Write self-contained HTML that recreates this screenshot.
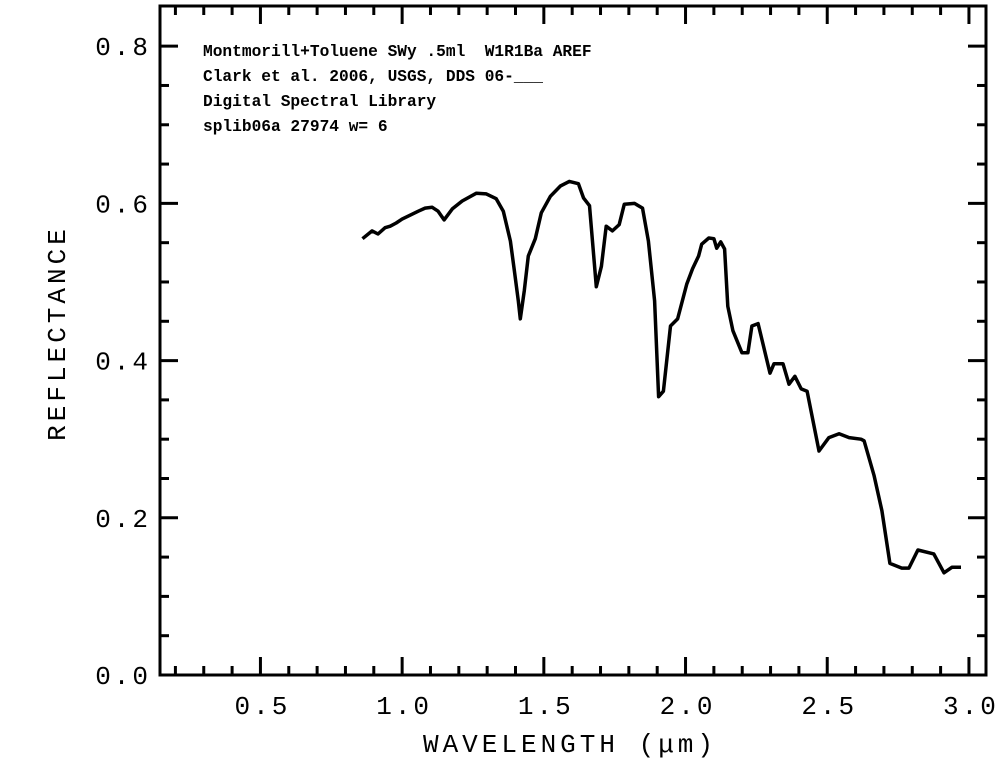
<!DOCTYPE html>
<html><head><meta charset="utf-8"><style>
html,body{margin:0;padding:0;background:#fff;}
svg{display:block;}
.t{font-family:"Liberation Mono",monospace;fill:#000;white-space:pre;}
</style></head><body>
<svg id="chart" width="1003" height="771" xmlns="http://www.w3.org/2000/svg">
<g id="axes"></g>
<g id="hdr" class="t" font-size="16.2" font-weight="bold">
<text x="203" y="56" xml:space="preserve">Montmorill+Toluene SWy .5ml  W1R1Ba AREF</text>
<text x="203" y="81">Clark et al. 2006, USGS, DDS 06-___</text>
<text x="203" y="106">Digital Spectral Library</text>
<text x="203" y="131">splib06a 27974 w= 6</text>
</g>
<text class="t" x="570" y="752" font-size="26" letter-spacing="4" text-anchor="middle">WAVELENGTH (μm)</text>
<text class="t" x="0" y="0" font-size="26" letter-spacing="4" text-anchor="middle" transform="translate(65,333) rotate(-90)">REFLECTANCE</text>
</svg>
<script>
const wavelengths=[0.860,0.894,0.915,0.940,0.958,0.979,1.000,1.028,1.057,1.081,1.106,1.127,1.148,1.177,1.212,1.262,1.297,1.332,1.357,1.382,1.396,1.410,1.417,1.431,1.445,1.470,1.491,1.523,1.558,1.590,1.622,1.640,1.661,1.685,1.703,1.720,1.742,1.766,1.784,1.820,1.848,1.869,1.891,1.905,1.922,1.947,1.972,2.004,2.025,2.046,2.057,2.082,2.100,2.110,2.124,2.138,2.149,2.167,2.199,2.220,2.234,2.256,2.298,2.312,2.344,2.365,2.386,2.408,2.429,2.471,2.506,2.542,2.577,2.619,2.630,2.665,2.693,2.721,2.763,2.788,2.820,2.876,2.912,2.940,2.972];
const reflectance=[0.555,0.565,0.561,0.569,0.571,0.575,0.580,0.585,0.590,0.594,0.595,0.590,0.579,0.593,0.603,0.613,0.612,0.606,0.590,0.552,0.514,0.476,0.453,0.489,0.533,0.555,0.588,0.609,0.622,0.628,0.625,0.607,0.597,0.494,0.520,0.571,0.565,0.573,0.599,0.600,0.594,0.552,0.476,0.354,0.361,0.444,0.453,0.497,0.517,0.533,0.548,0.556,0.555,0.543,0.551,0.542,0.469,0.438,0.410,0.410,0.444,0.447,0.384,0.396,0.396,0.370,0.380,0.364,0.361,0.285,0.302,0.307,0.302,0.300,0.298,0.254,0.209,0.142,0.136,0.136,0.159,0.154,0.130,0.137,0.137];
const xTicks=[0.5,1.0,1.5,2.0,2.5,3.0];
const xTickLabels=["0.5","1.0","1.5","2.0","2.5","3.0"];
const yTicks=[0.0,0.2,0.4,0.6,0.8];
const yTickLabels=["0.0","0.2","0.4","0.6","0.8"];

const L=160,R=986,T=6,B=675;
const xMin=0.1456,xMax=3.0602,yMin=0,yMax=0.8511;
const X=v=>L+(v-xMin)/(xMax-xMin)*(R-L);
const Y=v=>B-(v-yMin)/(yMax-yMin)*(B-T);
const NS="http://www.w3.org/2000/svg";
const ax=document.getElementById('axes');
function mk(tag,attrs,parent){const e=document.createElementNS(NS,tag);for(const k in attrs)e.setAttribute(k,attrs[k]);(parent||ax).appendChild(e);return e;}

const frame=mk('rect',{x:L,y:T,width:R-L,height:B-T,fill:'none',stroke:'#000','stroke-width':3});



for(let i=2;i<=30;i++){
  const v=i/10, major=(i%5===0);
  const len=major?18:9, x=X(v);
  const tb=mk('line',{x1:x,x2:x,y1:B,y2:B-len,stroke:'#000','stroke-width':3});
  
  
  const tt=mk('line',{x1:x,x2:x,y1:T,y2:T+len,stroke:'#000','stroke-width':3});
  
  
}
for(let i=1;i<=16;i++){
  const v=i*0.05, major=(i%4===0);
  const len=major?18:9, y=Y(v);
  const tl=mk('line',{x1:L,x2:L+len,y1:y,y2:y,stroke:'#000','stroke-width':3});
  
  
  const tr=mk('line',{x1:R,x2:R-len,y1:y,y2:y,stroke:'#000','stroke-width':3});
  
  
}
xTicks.forEach((v,i)=>{
  const t=mk('text',{x:X(v)+2,y:714,'font-size':26,'letter-spacing':3,'text-anchor':'middle',class:'t'});
  t.textContent=xTickLabels[i];
  
  
});
yTicks.forEach((v,i)=>{
  const t=mk('text',{x:151,y:Y(v)+9,'font-size':26,'letter-spacing':3,'text-anchor':'end',class:'t'});
  t.textContent=yTickLabels[i];
  
  
});
const d=wavelengths.map((w,i)=>(i?'L':'M')+X(w).toFixed(1)+' '+Y(reflectance[i]).toFixed(1)).join(' ');
const line=mk('path',{d:d,fill:'none',stroke:'#000','stroke-width':3.5,'stroke-linejoin':'round'});


</script>
</body></html>
